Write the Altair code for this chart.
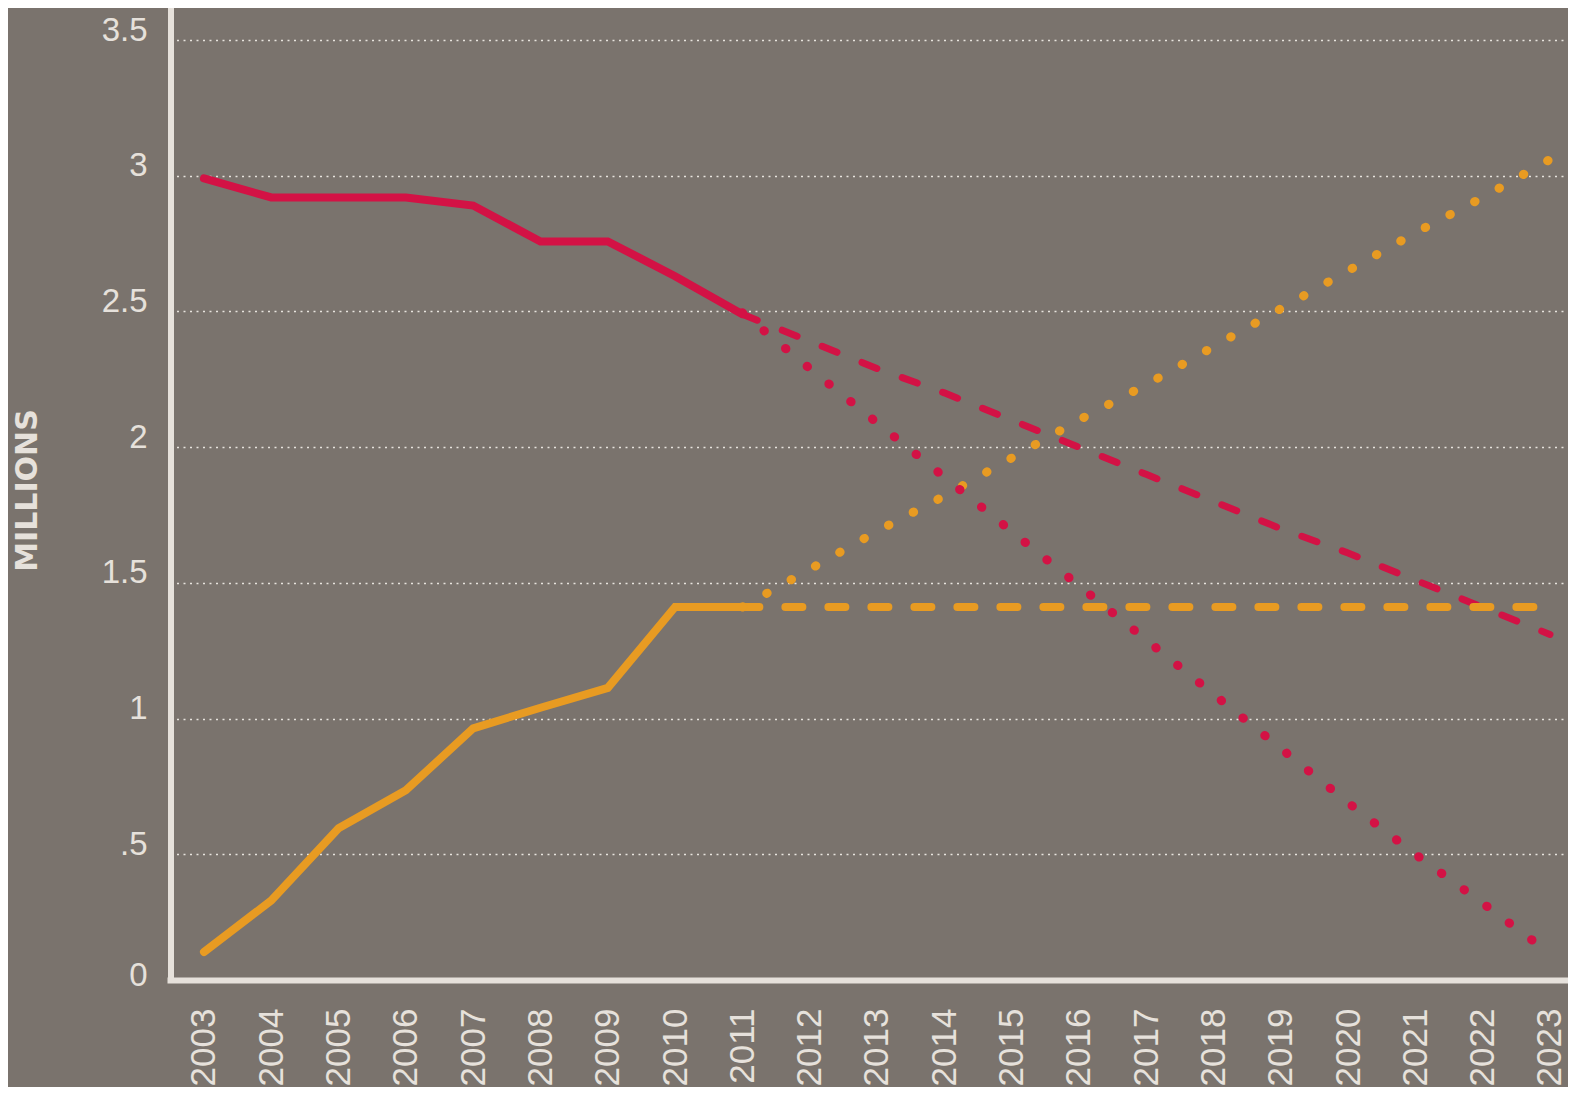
import altair as alt
import pandas as pd

# ---- data ----
years_hist = [2003, 2004, 2005, 2006, 2007, 2008, 2009, 2010, 2011]
red_hist = [2.99, 2.92, 2.92, 2.92, 2.89, 2.758, 2.758, 2.63, 2.49]
orange_hist = [0.14, 0.33, 0.596, 0.736, 0.964, 1.04, 1.113, 1.411, 1.411]

years_proj = [2011, 2012, 2013, 2014, 2015, 2016, 2017, 2018, 2019, 2020, 2021, 2022, 2023]
red_dashed = [2.49, 2.39, 2.29, 2.20, 2.10, 2.00, 1.90, 1.80, 1.70, 1.61, 1.51, 1.41, 1.31]
red_dotted = [2.495, 2.29, 2.09, 1.89, 1.69, 1.49, 1.29, 1.09, 0.89, 0.69, 0.50, 0.32, 0.135]
orange_dashed = [1.411, 1.411, 1.411, 1.411, 1.411, 1.411, 1.411, 1.411, 1.411, 1.411, 1.411, 1.411, 1.411]
orange_dotted = [1.411, 1.55, 1.69, 1.82, 1.96, 2.10, 2.23, 2.37, 2.51, 2.65, 2.79, 2.92, 3.06]

year_ticks = [2003, 2004, 2005, 2006, 2007, 2008, 2009, 2010, 2011, 2012, 2013,
              2014, 2015, 2016, 2017, 2018, 2019, 2020, 2021, 2022, 2023]
y_ticks = [0, 0.5, 1, 1.5, 2, 2.5, 3, 3.5]

BG = "#7a736d"
LIGHT = "#e6e1db"
RED = "#d31245"
ORANGE = "#e89b22"
FONT = "Liberation Sans"

x_enc = alt.X(
    "year:Q",
    scale=alt.Scale(domain=[2002.495, 2023.268], nice=False, zero=False),
    axis=alt.Axis(
        values=year_ticks, format="d", title=None, grid=False, offset=-10,
        labelAngle=270, labelAlign="right", labelBaseline="middle",
        labelFont=FONT, labelFontSize=35, labelColor=LIGHT, labelPadding=28,
        ticks=False, tickSize=0, domain=True, domainColor=LIGHT, domainWidth=6,
        domainCap="square", labelOverlap=False, labelFlush=False,
    ),
)
y_enc = alt.Y(
    "value:Q",
    scale=alt.Scale(domain=[0, 3.618], nice=False, zero=True),
    axis=alt.Axis(
        values=y_ticks, format="~g",
        labelExpr="datum.value == 0.5 ? '.5' : datum.label",
        grid=True, gridColor="#e8e4de", gridDash=[2, 4.5], gridWidth=1.5,
        gridOpacity={"condition": {"test": "datum.value === 0", "value": 0}, "value": 1},
        ticks=False, tickSize=0, domain=False,
        labelFont=FONT, labelFontSize=33, labelColor=LIGHT, labelPadding=23,
        labelOffset={"condition": {"test": "datum.value === 0", "value": -5}, "value": 0},
        labelBaseline="alphabetic", labelOverlap=False, labelFlush=False,
        title="MILLIONS", titleFont="DejaVu Sans", titleFontWeight="bold",
        titleFontSize=30, titleColor=LIGHT, titleAngle=270,
        titleAlign="center", titleBaseline="middle", titleX=-143, titleY=482,
    ),
)


def layer(years, values, color, width, dash=None):
    df = pd.DataFrame({"year": years, "value": values})
    kw = dict(color=color, strokeWidth=width, strokeCap="round", strokeJoin="miter")
    if dash is not None:
        kw["strokeDash"] = dash
    return alt.Chart(df).mark_line(**kw).encode(x=x_enc, y=y_enc)


# vertical axis line (stops at the horizontal axis line, as in the reference)
y_axis_line = alt.Chart(pd.DataFrame({"k": [0]})).mark_rule(
    color=LIGHT, strokeWidth=6, strokeCap="butt"
).encode(x=alt.value(1), y=alt.value(-1), y2=alt.value(975))

chart = alt.layer(
    layer(years_proj, red_dashed, RED, 7, [16, 27]),
    layer(years_proj, orange_dashed, ORANGE, 8, [17, 26]),
    layer(years_proj, orange_dotted, ORANGE, 9, [0.5, 27.4]),
    layer(years_proj, red_dotted, RED, 9, [0.5, 27.5]),
    layer(years_hist, red_hist, RED, 8),
    layer(years_hist, orange_hist, ORANGE, 8),
    y_axis_line,
).properties(
    width=1398,
    height=982,
    padding={"left": 162, "top": 0, "right": 0, "bottom": 97},
    autosize=alt.AutoSizeParams(type="none"),
    background=BG,
).configure_view(strokeWidth=0)

chart.save("out.html", embed_options={"renderer": "svg", "actions": False})
